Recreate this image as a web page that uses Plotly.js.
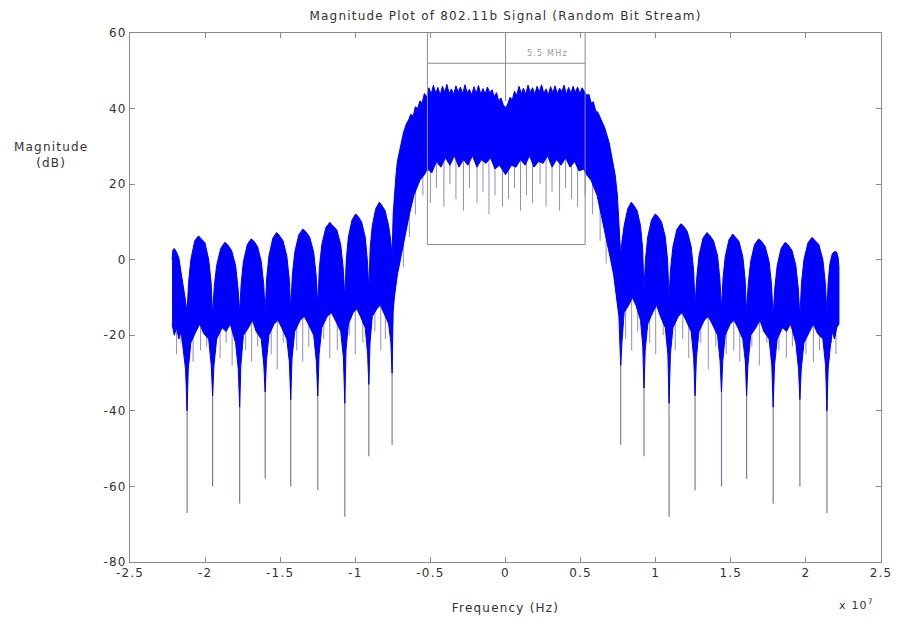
<!DOCTYPE html>
<html><head><meta charset="utf-8">
<script src="https://cdn.plot.ly/plotly-3.0.1.min.js"></script>
<style>
html,body{margin:0;padding:0;background:#fff;}
#chart{width:898px;height:621px;}
svg text{letter-spacing:1.2px;}
</style>
</head><body><div id="chart"></div>
<script>
// Frequency in units of 10^7 Hz, magnitude in dB
const xTickVals = [-2.5,-2,-1.5,-1,-0.5,0,0.5,1,1.5,2,2.5];
const xTickText = ['-2.5','-2','-1.5','-1','-0.5','0','0.5','1','1.5','2','2.5'];
const yTickVals = [-80,-60,-40,-20,0,20,40,60];
const yTickText = ['-80','-60','-40','-20','0','20','40','60'];

// upper envelope of the dense spectrum
const upperFreq = [
 -2.22,-2.215,-2.205,-2.19,-2.175,-2.16,-2.145,-2.13,
 -2.12,-2.110,-2.095,-2.069,-2.044,-2.027,-2.001,-1.976,-1.960,
 -1.95,-1.939,-1.923,-1.896,-1.869,-1.851,-1.824,-1.797,-1.781,
 -1.77,-1.760,-1.745,-1.719,-1.694,-1.677,-1.651,-1.626,-1.610,
 -1.60,-1.590,-1.575,-1.549,-1.524,-1.507,-1.481,-1.456,-1.440,
 -1.43,-1.419,-1.403,-1.376,-1.349,-1.331,-1.304,-1.277,-1.261,
 -1.25,-1.239,-1.223,-1.196,-1.169,-1.151,-1.124,-1.097,-1.081,
 -1.07,-1.060,-1.046,-1.022,-0.998,-0.982,-0.958,-0.934,-0.920,
 -0.91,-0.901,-0.887,-0.864,-0.840,-0.825,-0.802,-0.778,-0.764,
 -0.755,-0.748,-0.74,-0.73,-0.72,-0.70,-0.68,-0.66,-0.645,-0.63,-0.615,-0.60,-0.585,-0.57,-0.555,-0.54,-0.525,
 -0.51,-0.495,-0.48,-0.465,-0.45,-0.435,-0.42,-0.405,-0.39,-0.375,
 -0.36,-0.345,-0.33,-0.315,-0.30,-0.285,-0.27,-0.255,-0.24,-0.225,
 -0.21,-0.195,-0.18,-0.165,-0.15,-0.135,-0.12,-0.105,-0.09,-0.075,
 -0.06,-0.045,-0.03,-0.015,0,0.015,0.03,0.045,0.06,0.075,
 0.09,0.105,0.12,0.135,0.15,0.165,0.18,0.195,0.21,0.225,
 0.24,0.255,0.27,0.285,0.30,0.315,0.33,0.345,0.36,0.375,
 0.39,0.405,0.42,0.435,0.45,0.465,0.48,0.495,0.51,
 0.525,0.54,0.555,0.57,0.585,0.60,0.615,0.63,0.645,0.66,0.69,0.71,0.73,0.745,0.755,
 0.767,0.776,0.790,0.814,0.837,0.852,0.876,0.899,0.913,
 0.922,0.932,0.947,0.972,0.997,1.014,1.039,1.064,1.079,
 1.089,1.099,1.115,1.141,1.167,1.184,1.210,1.236,1.252,
 1.262,1.273,1.288,1.315,1.341,1.359,1.385,1.412,1.427,
 1.438,1.448,1.463,1.488,1.513,1.530,1.555,1.580,1.595,
 1.605,1.616,1.632,1.658,1.685,1.702,1.729,1.755,1.771,
 1.782,1.793,1.809,1.835,1.862,1.880,1.907,1.933,1.949,
 1.96,1.971,1.987,2.014,2.041,2.059,2.086,2.113,2.129,
 2.14,2.148,2.16,2.175,2.19,2.205,2.215,2.22
];
const upperDb = [
 0,2.5,3,2,0.5,-3,-7,-11,
 -14,-6,0,5,6.3,5.5,4.5,0,-6,
 -15,-7,-1.5,3,4.6,4,2.5,-1.5,-7.5,
 -14,-6.5,-0.5,4,5.5,5,3.5,-0.5,-6.5,
 -14,-5,1,5.7,7.2,6.5,5,1,-5,
 -13,-4,2,6.6,8.1,7.5,6,2,-4,
 -12,-2,4,8.5,9.9,9,8,4,-2,
 -10,0,6,10.5,12.1,11.5,10,6,0,
 -8,3,9,13.5,15.2,14.5,13,9,5,
 1,12,18,22,26,30,33.5,36,37,38.5,38,40.5,40,42,41.5,44,43,
 45.5,43.8,46.2,44.1,45.6,43.5,45.9,44.3,46.4,44.0,
 45.2,43.7,46.0,44.4,45.7,43.9,46.3,44.2,45.1,43.6,
 45.8,44.0,46.1,43.8,45.3,43.9,45.7,44.1,45.0,43.2,
 44.2,42.0,42.8,41.0,40.2,41.2,43.0,42.3,44.6,43.5,
 45.9,44.0,45.4,43.7,46.2,44.3,45.5,43.8,45.9,44.4,
 46.3,44.0,45.2,43.6,45.8,44.2,46.0,43.9,45.4,44.5,
 46.2,43.8,45.6,44.1,45.9,44.3,45.7,43.9,45.5,
 44.5,43.5,43.8,41.5,41.8,39.5,39,37.5,36.5,35,31,27,22.5,17,11,
 1,5,9,13.5,15.2,14.5,13,9,3,
 -8,0,6,10.5,12.1,11.5,10,6,0,
 -10,-2.5,3.5,8,9.5,9,7.5,3.5,-2.5,
 -12,-5,1,5.7,7.2,6.5,5,1,-5,
 -13,-5,0.8,5.3,6.8,6,4.8,0.8,-5,
 -14,-6.5,-0.5,4,5.5,5,3.5,-0.5,-6.5,
 -15,-7.5,-1.5,3,4.6,4,2.5,-1.5,-7.5,
 -15,-6,0,4.5,5.9,5.2,4,0,-6,
 -14,-6,-1,1.5,2.2,2,0.5,-2
];

// lower edge of the dense (solid blue) part
const lowerFreq = [
 -2.22,-2.205,-2.19,-2.175,-2.16,-2.145,-2.13,
 -2.12,-2.112,-2.095,-2.061,-2.035,-2.010,-1.976,-1.959,
 -1.95,-1.941,-1.923,-1.887,-1.860,-1.833,-1.797,-1.779,
 -1.77,-1.762,-1.745,-1.711,-1.685,-1.660,-1.626,-1.609,
 -1.60,-1.592,-1.575,-1.541,-1.515,-1.490,-1.456,-1.439,
 -1.43,-1.421,-1.403,-1.367,-1.340,-1.313,-1.277,-1.259,
 -1.25,-1.241,-1.223,-1.187,-1.160,-1.133,-1.097,-1.079,
 -1.07,-1.062,-1.046,-1.014,-0.990,-0.966,-0.934,-0.918,
 -0.91,-0.902,-0.887,-0.856,-0.833,-0.809,-0.778,-0.763,
 -0.755,-0.748,-0.74,-0.72,-0.70,-0.67,-0.64,-0.61,-0.57,-0.54,-0.52,-0.49,-0.46,-0.43,-0.40,-0.37,-0.34,-0.31,-0.28,-0.25,
 -0.22,-0.19,-0.16,-0.13,-0.10,-0.07,-0.04,0,0.04,0.07,0.10,0.13,0.16,0.19,0.22,
 0.25,0.28,0.31,0.34,0.37,0.40,0.43,0.46,0.49,0.52,0.54,0.57,0.61,0.64,0.67,0.70,0.72,0.74,0.755,
 0.767,0.775,0.790,0.821,0.845,0.868,0.899,0.914,
 0.922,0.930,0.947,0.980,1.006,1.031,1.064,1.081,
 1.089,1.098,1.115,1.150,1.176,1.201,1.236,1.253,
 1.262,1.271,1.288,1.324,1.350,1.376,1.412,1.429,
 1.438,1.446,1.463,1.496,1.522,1.547,1.580,1.597,
 1.605,1.614,1.632,1.667,1.694,1.720,1.755,1.773,
 1.782,1.791,1.809,1.844,1.871,1.898,1.933,1.951,
 1.96,1.969,1.987,2.023,2.050,2.077,2.113,2.131,
 2.14,2.148,2.16,2.175,2.19,2.205,2.22
];
const lowerDb = [
 -17,-20,-18,-21,-19,-24,-29,
 -40,-29,-22,-19,-17,-19.5,-21,-28,
 -36,-28,-21,-18,-19,-17,-22,-29,
 -39,-28,-20,-18,-16,-19,-21,-28,
 -35,-27,-20,-17,-16,-18,-21,-27,
 -37,-26,-19,-16,-15,-17,-20,-27,
 -36,-25,-18,-15,-14,-16,-19,-26,
 -38,-24,-17,-14,-13,-15,-18,-25,
 -33,-22,-15,-13,-12,-14,-17,-22,
 -30,-14,-10,-4,0,6,12,17,21,22.5,24,23,26,24.5,27,25,27.5,24.5,26.5,25,
 27.5,24.5,26.5,25.5,27,24,25,22.5,25,24.5,26.5,25,27.5,24.5,26,
 25.5,27.5,24.5,26.5,25,27,24.5,26,23.5,24,22.5,21,17,12,6,0,-4,-10,-15,
 -28,-22,-14,-12,-10,-12,-16,-23,
 -34,-24,-17,-14,-12,-15,-18,-25,
 -38,-25,-18,-15,-14,-16,-19,-26,
 -36,-26,-19,-16,-15,-17,-20,-27,
 -35,-27,-20,-17,-16,-18,-21,-27,
 -36,-28,-20,-18,-16,-19,-21,-28,
 -39,-28,-21,-18,-19,-17,-22,-29,
 -37,-29,-22,-19,-17,-19.5,-21,-28,
 -40,-29,-24,-19,-21,-18,-17
];

// deep spectral nulls (thin spikes)
const nullFreq  = [-2.12,-1.95,-1.77,-1.60,-1.43,-1.25,-1.07,-0.91,-0.755,0.767,0.922,1.089,1.262,1.438,1.605,1.782,1.96,2.14];
const nullTop   = [-32,-30,-32,-30,-31,-30,-32,-28,-18,-20,-28,-32,-30,-30,-31,-32,-30,-32];
const nullDepth = [-67,-60,-64.5,-58,-60,-61,-68,-52,-49,-49,-52,-68,-61,-60,-58,-64.5,-60,-67];

// sparse light fringe below the dense part
const fringeFreq = [
 -2.19,-2.16,-2.08,-2.03,-1.99,-1.90,-1.86,-1.82,-1.73,-1.69,-1.65,-1.56,-1.52,-1.48,-1.39,-1.35,-1.31,-1.21,-1.17,-1.12,-1.04,-1.00,-0.95,-0.87,-0.83,-0.80,
 -0.68,-0.64,-0.60,-0.55,-0.50,-0.46,-0.41,-0.37,-0.33,-0.28,-0.24,-0.19,-0.15,-0.11,-0.07,-0.02,0.02,0.06,0.10,0.14,0.18,0.23,0.27,0.31,0.36,0.40,0.44,0.48,0.53,0.58,0.63,0.67,
 0.80,0.84,0.88,0.96,1.00,1.05,1.13,1.18,1.22,1.30,1.35,1.40,1.47,1.52,1.56,1.64,1.69,1.74,1.82,1.87,1.91,2.00,2.05,2.09,2.17,2.20
];
const fringeTop = [
 -14,-14,-14,-14,-14,-14,-14,-14,-14,-14,-14,-14,-14,-14,-14,-14,-14,-12,-12,-12,-12,-12,-12,-10,-10,-10,
 20,24,28,30,30,30,30,30,30,30,30,30,30,30,30,30,30,30,30,30,30,30,30,30,30,30,30,30,30,28,24,20,
 -10,-10,-10,-12,-12,-12,-12,-12,-12,-14,-14,-14,-14,-14,-14,-14,-14,-14,-14,-14,-14,-14,-14,-14,-14,-14
];
const fringeBot = [
 -25,-22,-27,-24,-23,-26,-22,-28,-24,-27,-23,-25,-29,-22,-24,-27,-23,-21,-26,-24,-20,-25,-22,-19,-24,-21,
 -2,6,12,17,15,19,14,20,16,13,19,15,18,12,17,14,16,19,13,17,15,20,14,18,13,19,16,14,17,12,5,-1,
 -21,-24,-19,-22,-25,-20,-24,-21,-26,-22,-29,-23,-25,-24,-27,-23,-28,-22,-24,-26,-23,-25,-27,-24,-22,-25
];

// 5.5 MHz bandwidth marker
const bandLeft = -0.52, bandRight = 0.53, bandTopDb = 52, bandBottomDb = 4, bandCenterEndDb = 42;

function segs(xs, tops, bots){
  const x=[], y=[];
  for(let i=0;i<xs.length;i++){ x.push(xs[i],xs[i],null); y.push(tops[i],bots[i],null); }
  return {x,y};
}
const nullSeg = segs(nullFreq, nullTop, nullDepth);
const fringeSeg = segs(fringeFreq, fringeTop, fringeBot);

const polyX = upperFreq.concat(lowerFreq.slice().reverse());
const polyY = upperDb.concat(lowerDb.slice().reverse());

const traces = [
  {x:fringeSeg.x, y:fringeSeg.y, type:'scatter', mode:'lines', line:{color:'rgba(125,125,160,0.85)', width:1}, hoverinfo:'skip'},
  {x:nullSeg.x, y:nullSeg.y, type:'scatter', mode:'lines', line:{color:'rgba(110,110,140,0.9)', width:1.2}, hoverinfo:'skip'},
  {x:polyX, y:polyY, type:'scatter', mode:'lines', fill:'toself', fillcolor:'rgb(0,0,255)', line:{color:'rgb(0,0,245)', width:1}, hoverinfo:'skip'}
];

const axisCommon = {ticks:'inside', ticklen:5, tickcolor:'#8a8a8a', showline:true, linecolor:'#8a8a8a', linewidth:1, mirror:'ticks', showgrid:false, zeroline:false, tickfont:{size:12, color:'#333'}};
const lineStyle = {color:'#8c8c8c', width:1};

const layout = {
  width:898, height:621,
  margin:{l:130, r:17, t:33, b:59},
  paper_bgcolor:'#fff', plot_bgcolor:'#fff',
  showlegend:false,
  font:{family:'DejaVu Sans, Liberation Sans, sans-serif', size:12, color:'#333'},
  title:{text:'Magnitude Plot of 802.11b Signal (Random Bit Stream)', x:0.5, xref:'paper', xanchor:'center', y:0.975, yref:'container', yanchor:'middle', font:{size:12, color:'#333'}},
  xaxis:Object.assign({range:[-2.5,2.5], tickmode:'array', tickvals:xTickVals, ticktext:xTickText,
     title:{text:'Frequency (Hz)', standoff:24, font:{size:12, color:'#333'}}}, axisCommon),
  yaxis:Object.assign({range:[-80,60], tickmode:'array', tickvals:yTickVals, ticktext:yTickText}, axisCommon),
  shapes:[
    {type:'line', xref:'x', yref:'y', x0:bandLeft, x1:bandLeft, y0:bandBottomDb, y1:60, line:lineStyle},
    {type:'line', xref:'x', yref:'y', x0:bandRight, x1:bandRight, y0:bandBottomDb, y1:60, line:lineStyle},
    {type:'line', xref:'x', yref:'y', x0:0, x1:0, y0:bandCenterEndDb, y1:60, line:lineStyle},
    {type:'line', xref:'x', yref:'y', x0:bandLeft, x1:bandRight, y0:bandTopDb, y1:bandTopDb, line:lineStyle},
    {type:'line', xref:'x', yref:'y', x0:bandLeft, x1:bandRight, y0:bandBottomDb, y1:bandBottomDb, line:lineStyle}
  ],
  annotations:[
    {text:'5.5 MHz', xref:'x', yref:'y', x:0.28, y:54.5, showarrow:false, font:{size:8, color:'#999'}},
    {text:'Magnitude<br>(dB)', xref:'paper', yref:'paper', x:-0.105, y:0.77, xanchor:'center', yanchor:'middle', showarrow:false, font:{size:12, color:'#333'}},
    {text:'x 10<sup>7</sup>', xref:'paper', yref:'paper', x:0.967, y:-0.08, xanchor:'center', yanchor:'middle', showarrow:false, font:{size:11, color:'#333'}}
  ]
};

Plotly.newPlot('chart', traces, layout, {displayModeBar:false, staticPlot:true});
</script></body></html>
